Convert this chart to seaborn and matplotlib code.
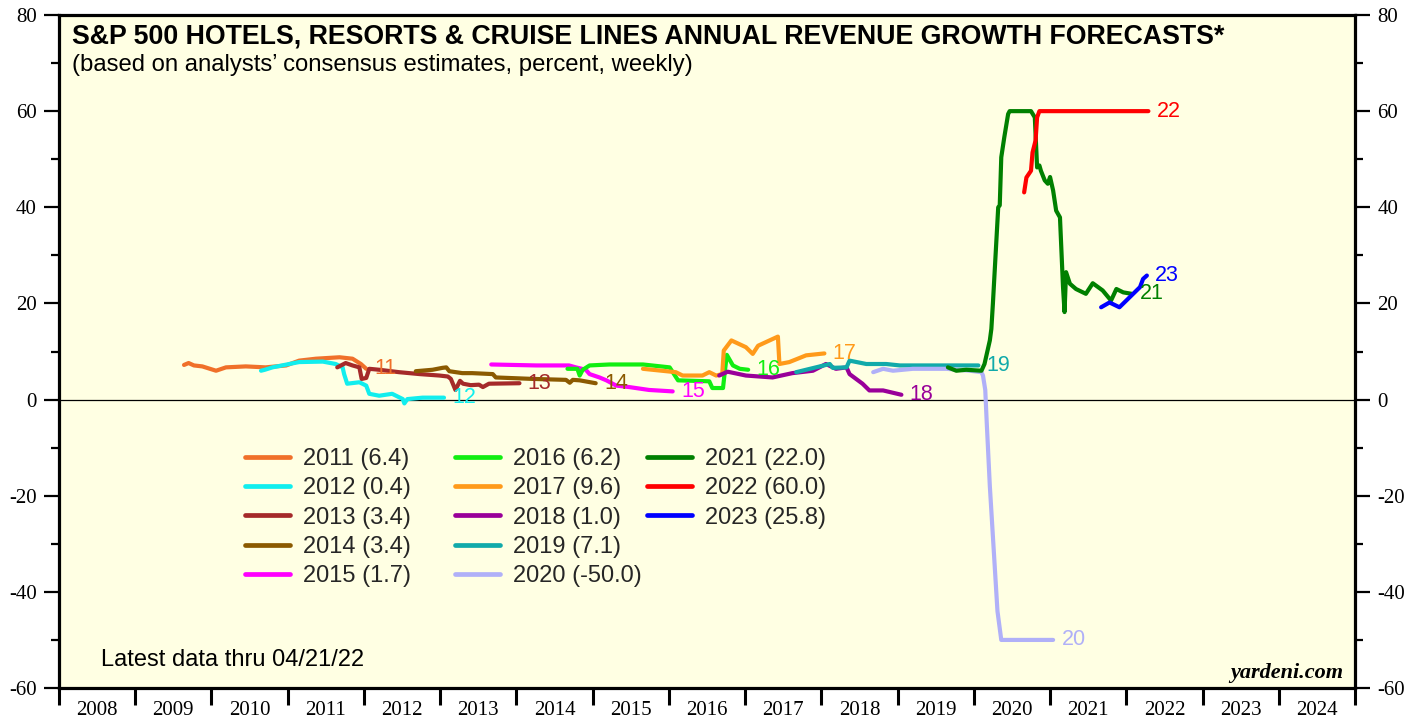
import matplotlib
matplotlib.use("Agg")
import matplotlib.pyplot as plt
import numpy as np
import pandas as pd
import seaborn as sns
from matplotlib.lines import Line2D
from matplotlib.ticker import FixedLocator, FixedFormatter, NullFormatter, MultipleLocator

# ---------------- data (decimal year, percent) ----------------
x2011 = [2009.64, 2009.70, 2009.77, 2009.88, 2010.02, 2010.06, 2010.19, 2010.45, 2010.71, 2010.98, 2011.15, 2011.37, 2011.68, 2011.85, 2011.96, 2012.03]
y2011 = [7.2, 7.6, 7.1, 6.9, 6.2, 6.0, 6.7, 6.9, 6.7, 7.1, 8.1, 8.5, 8.8, 8.5, 7.4, 6.4]

x2012 = [2010.65, 2010.70, 2010.80, 2011.02, 2011.15, 2011.46, 2011.63, 2011.72, 2011.74, 2011.78, 2011.94, 2012.03, 2012.07, 2012.20, 2012.37, 2012.51, 2012.53, 2012.57, 2012.77, 2013.05]
y2012 = [6.0, 6.2, 6.7, 7.4, 7.8, 7.9, 7.4, 6.7, 5.3, 3.3, 3.6, 2.9, 1.2, 0.8, 1.2, 0.1, -0.8, 0.1, 0.4, 0.4]

x2013 = [2011.65, 2011.76, 2011.85, 2011.94, 2011.97, 2012.03, 2012.07, 2012.20, 2012.46, 2012.73, 2012.99, 2013.10, 2013.14, 2013.20, 2013.26, 2013.30, 2013.40, 2013.51, 2013.56, 2013.64, 2014.04]
y2013 = [6.7, 7.6, 7.1, 6.7, 4.3, 4.5, 6.4, 6.2, 5.7, 5.3, 5.0, 4.8, 4.3, 2.0, 3.9, 3.3, 3.0, 3.1, 2.6, 3.3, 3.4]

x2014 = [2012.68, 2012.90, 2013.03, 2013.08, 2013.12, 2013.29, 2013.42, 2013.69, 2013.73, 2014.21, 2014.65, 2014.70, 2014.74, 2014.83, 2015.04]
y2014 = [5.9, 6.2, 6.6, 6.7, 5.9, 5.5, 5.5, 5.3, 4.6, 4.3, 4.1, 3.5, 4.1, 4.0, 3.4]

x2015 = [2013.67, 2014.26, 2014.69, 2014.78, 2014.91, 2014.96, 2015.09, 2015.18, 2015.31, 2015.48, 2015.74, 2016.05]
y2015 = [7.3, 7.1, 7.1, 6.7, 6.2, 5.3, 4.6, 4.0, 2.9, 2.6, 2.0, 1.7]

x2016 = [2014.67, 2014.80, 2014.83, 2014.87, 2014.96, 2015.22, 2015.66, 2016.01, 2016.12, 2016.53, 2016.57, 2016.71, 2016.73, 2016.76, 2016.84, 2016.93, 2017.04]
y2016 = [6.4, 6.4, 5.0, 6.2, 7.1, 7.3, 7.3, 6.7, 4.0, 3.8, 2.4, 2.4, 5.3, 9.3, 7.1, 6.4, 6.2]

x2017 = [2015.66, 2016.09, 2016.18, 2016.44, 2016.53, 2016.62, 2016.70, 2016.72, 2016.82, 2017.01, 2017.10, 2017.17, 2017.32, 2017.43, 2017.45, 2017.58, 2017.80, 2018.04]
y2017 = [6.4, 5.7, 5.0, 5.0, 5.7, 5.0, 5.3, 10.2, 12.3, 10.9, 9.5, 11.2, 12.3, 13.1, 7.4, 7.8, 9.2, 9.6]

x2018 = [2016.66, 2016.77, 2017.01, 2017.36, 2017.62, 2017.89, 2018.06, 2018.19, 2018.33, 2018.37, 2018.54, 2018.63, 2018.81, 2019.05]
y2018 = [5.0, 5.8, 5.0, 4.6, 5.5, 6.0, 7.4, 6.4, 6.7, 5.3, 3.3, 1.9, 1.9, 1.0]

x2019 = [2017.67, 2018.11, 2018.15, 2018.33, 2018.37, 2018.59, 2018.85, 2019.03, 2019.29, 2019.64, 2020.06]
y2019 = [5.7, 7.4, 6.6, 6.7, 8.1, 7.4, 7.4, 7.1, 7.1, 7.1, 7.1]

x2020 = [2018.68, 2018.81, 2018.94, 2019.20, 2019.64, 2019.95, 2020.10, 2020.12, 2020.15, 2020.17, 2020.21, 2020.26, 2020.31, 2020.36, 2021.04]
y2020 = [5.7, 6.4, 6.0, 6.4, 6.4, 6.0, 5.7, 5.0, 2.0, -5.0, -18.0, -31.0, -44.0, -50.0, -50.0]

x2021 = [2019.66, 2019.77, 2019.90, 2020.10, 2020.14, 2020.21, 2020.23, 2020.25, 2020.32, 2020.34, 2020.36, 2020.40, 2020.45, 2020.47, 2020.75, 2020.80, 2020.83, 2020.86, 2020.88, 2020.93, 2020.97, 2021.00, 2021.04, 2021.08, 2021.13, 2021.17, 2021.19, 2021.21, 2021.26, 2021.34, 2021.47, 2021.56, 2021.69, 2021.80, 2021.87, 2021.96, 2022.07]
y2021 = [6.7, 6.0, 6.2, 6.0, 7.4, 12.3, 14.7, 19.9, 40.0, 40.4, 50.4, 54.6, 59.4, 60.0, 60.0, 58.7, 48.3, 48.7, 47.6, 45.6, 44.9, 46.3, 43.5, 39.3, 37.9, 23.4, 18.2, 26.5, 24.1, 23.0, 22.0, 24.2, 22.7, 20.6, 23.0, 22.3, 22.0]

x2022 = [2020.66, 2020.69, 2020.75, 2020.77, 2020.81, 2020.83, 2020.86, 2022.29]
y2022 = [43.1, 46.2, 47.6, 51.4, 53.9, 58.7, 60.0, 60.0]

x2023 = [2021.67, 2021.78, 2021.91, 2022.00, 2022.09, 2022.18, 2022.22, 2022.27]
y2023 = [19.2, 20.2, 19.2, 20.6, 22.0, 23.4, 25.1, 25.8]

series_names = ["2011", "2012", "2013", "2014", "2015", "2016", "2017", "2018", "2019", "2020", "2021", "2022", "2023"]
latest_values = [6.4, 0.4, 3.4, 3.4, 1.7, 6.2, 9.6, 1.0, 7.1, -50.0, 22.0, 60.0, 25.8]
end_labels = ["11", "12", "13", "14", "15", "16", "17", "18", "19", "20", "21", "22", "23"]
colors = ["#F0702A", "#11EEEE", "#A52A2A", "#8B5A00", "#FF00FF", "#11EE11", "#FF9A1A",
          "#990099", "#11AAAA", "#B0B0F8", "#008000", "#FF0000", "#0000FF"]
year_labels = [str(y) for y in range(2008, 2025)]

title = "S&P 500 HOTELS, RESORTS & CRUISE LINES ANNUAL REVENUE GROWTH FORECASTS*"
subtitle = "(based on analysts\u2019 consensus estimates, percent, weekly)"
note = "Latest data thru 04/21/22"
source = "yardeni.com"

xs_all = [x2011, x2012, x2013, x2014, x2015, x2016, x2017, x2018, x2019, x2020, x2021, x2022, x2023]
ys_all = [y2011, y2012, y2013, y2014, y2015, y2016, y2017, y2018, y2019, y2020, y2021, y2022, y2023]

# ---------------- build frame ----------------
frames = []
for name, xs, ys in zip(series_names, xs_all, ys_all):
    frames.append(pd.DataFrame({"series": name, "date": xs, "value": ys}))
df = pd.concat(frames, ignore_index=True)
palette = dict(zip(series_names, colors))

# ---------------- style ----------------
sns.set_theme(style="white")
plt.rcParams["font.family"] = ["Liberation Sans", "DejaVu Sans"]
plt.rcParams["axes.unicode_minus"] = False

fig = plt.figure(figsize=(14.19, 7.19), dpi=100)
fig.patch.set_facecolor("white")
ax = fig.add_axes([59 / 1419, 1 - 688 / 719, 1296 / 1419, 673 / 719])
ax.set_facecolor("#FFFFE3")

ax.axhline(0, color="black", lw=0.9, zorder=1)

sns.lineplot(data=df, x="date", y="value", hue="series", hue_order=series_names,
             palette=palette, estimator=None, sort=False, linewidth=3.0,
             legend=False, ax=ax, zorder=3)

for name, xs, ys, lab, c in zip(series_names, xs_all, ys_all, end_labels, colors):
    ax.annotate(lab, xy=(xs[-1], ys[-1]), xytext=(6, 0), textcoords="offset points",
                ha="left", va="center", color=c, fontsize=15.5)

ax.set_xlim(2008, 2025)
ax.set_ylim(-60, 80)
ax.set_xlabel("")
ax.set_ylabel("")

ax.xaxis.set_major_locator(FixedLocator(list(range(2008, 2026))))
ax.xaxis.set_major_formatter(NullFormatter())
ax.xaxis.set_minor_locator(FixedLocator([y + 0.5 for y in range(2008, 2025)]))
ax.xaxis.set_minor_formatter(FixedFormatter(year_labels))
ax.tick_params(axis="x", which="major", bottom=True, top=False, direction="out",
               length=12, width=2.2, color="black")
ax.tick_params(axis="x", which="minor", bottom=True, top=False, length=0, pad=9.5,
               labelsize=15, labelfontfamily="Liberation Serif", labelcolor="black")

ax.yaxis.set_major_locator(MultipleLocator(20))
ax.yaxis.set_minor_locator(MultipleLocator(10))
ax.tick_params(axis="y", which="both", left=True, right=True, labelleft=True, labelright=True,
               direction="out", color="black", width=1.6)
ax.tick_params(axis="y", which="major", length=11, pad=5, labelsize=15,
               labelfontfamily="Liberation Serif", labelcolor="black")
ax.tick_params(axis="y", which="minor", length=6)

for sp in ax.spines.values():
    sp.set_visible(True)
    sp.set_color("black")
    sp.set_linewidth(2.3)

# ---------------- texts ----------------
ax.text(0.0100, 0.9675, title, transform=ax.transAxes, fontsize=19.3, fontweight="bold",
        ha="left", va="center", color="black")
ax.text(0.0100, 0.9250, subtitle, transform=ax.transAxes, fontsize=17.2,
        ha="left", va="center", color="black")
ax.text(0.0324, 0.0416, note, transform=ax.transAxes, fontsize=17,
        ha="left", va="center", color="black")
ax.text(0.9907, 0.0223, source, transform=ax.transAxes, fontsize=16,
        fontfamily="Liberation Serif", fontweight="bold", style="italic",
        ha="right", va="center", color="black")

# ---------------- legend (three columns) ----------------
col_groups = [range(0, 5), range(5, 10), range(10, 13)]
col_x = [(245 - 59) / 1296, (455 - 59) / 1296, (647 - 59) / 1296]
top_y = (688 - 448) / 673
legs = []
for grp, cx in zip(col_groups, col_x):
    handles = [Line2D([], [], color=colors[i], lw=3.4) for i in grp]
    labels = [f"{series_names[i]} ({latest_values[i]:.1f})" for i in grp]
    lg = ax.legend(handles, labels, loc="upper left", bbox_to_anchor=(cx, top_y),
                   bbox_transform=ax.transAxes, frameon=False, fontsize=17,
                   handlelength=1.9, handletextpad=0.55, labelspacing=0.31,
                   borderpad=0, borderaxespad=0)
    legs.append(lg)
for lg in legs[:-1]:
    ax.add_artist(lg)

fig.savefig("out.png", dpi=100)
